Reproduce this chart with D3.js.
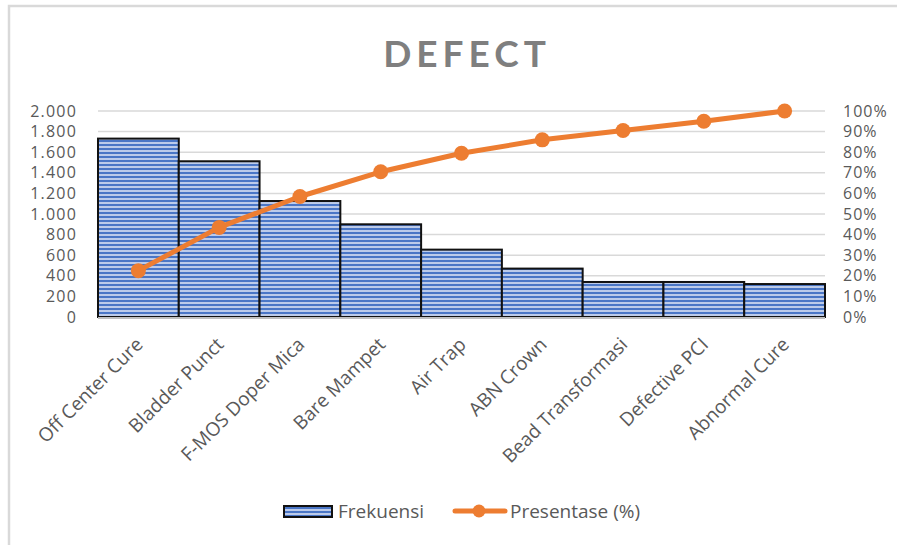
<!DOCTYPE html>
<html>
<head>
<meta charset="utf-8">
<script src="https://cdn.jsdelivr.net/npm/d3@7"></script>
<style>
  body { margin: 0; background: #fff; }
  svg text { font-family: "Open Sans", Lato, sans-serif; }
</style>
</head>
<body>
<div id="container"></div>
<script>
/**
 * DATA
 * */
const categories = ["Off Center Cure", "Bladder Punct", "F-MOS Doper Mica", "Bare Mampet",
  "Air Trap", "ABN Crown", "Bead Transformasi", "Defective PCI", "Abnormal Cure"];
const frekuensi = [1732, 1512, 1126, 900, 654, 470, 340, 340, 320];
const presentase = [22.5, 43.5, 58.5, 70.5, 79.5, 86, 90.5, 95, 100];
const leftTicks = [0, 200, 400, 600, 800, 1000, 1200, 1400, 1600, 1800, 2000];
const rightTicks = [0, 10, 20, 30, 40, 50, 60, 70, 80, 90, 100];

/**
 * CONSTANTS
 * */
const width = 897,
  height = 545,
  margin = { top: 111, bottom: 228, left: 98, right: 72 };

const svg = d3.select("#container")
  .append("svg")
  .attr("width", width)
  .attr("height", height);

// chart border (only top and left are visible in the shot)
svg.append("path")
  .attr("d", `M9,${height} V6 H${width}`)
  .attr("fill", "none")
  .attr("stroke", "#d9d9d9")
  .attr("stroke-width", 2.5);

// stripe pattern for bars
const defs = svg.append("defs");
const pat = defs.append("pattern")
  .attr("id", "stripes")
  .attr("patternUnits", "userSpaceOnUse")
  .attr("width", 8).attr("height", 4);
pat.append("rect").attr("width", 8).attr("height", 4).attr("fill", "#bccbea");
pat.append("rect").attr("y", 0).attr("width", 8).attr("height", 2).attr("fill", "#4a76c6");

const x = d3.scaleBand()
  .domain(categories)
  .range([margin.left, width - margin.right])
  .padding(0);

const yL = d3.scaleLinear()
  .domain([0, 2000])
  .range([height - margin.bottom, margin.top]);

const yR = d3.scaleLinear()
  .domain([0, 100])
  .range([height - margin.bottom, margin.top]);

// title
svg.append("text")
  .attr("x", 467)
  .attr("y", 67)
  .attr("text-anchor", "middle")
  .attr("font-size", 37)
  .attr("font-weight", "bold")
  .attr("letter-spacing", 5)
  .attr("fill", "#7f7f7f")
  .style("font-family", "Lato, sans-serif")
  .text("DEFECT");

// gridlines
svg.append("g")
  .selectAll("line")
  .data(leftTicks.slice(1))
  .join("line")
  .attr("x1", margin.left)
  .attr("x2", width - margin.right)
  .attr("y1", d => yL(d))
  .attr("y2", d => yL(d))
  .attr("stroke", "#d9d9d9")
  .attr("stroke-width", 1.5);

// left axis
const fmt = d => d3.format(",")(d).replace(/,/g, ".");
svg.append("g")
  .attr("transform", `translate(${margin.left},0)`)
  .call(d3.axisLeft(yL).tickValues(leftTicks).tickFormat(fmt).tickSize(0).tickPadding(21))
  .call(g => g.select(".domain").remove())
  .call(g => g.selectAll("text").attr("font-size", 16).attr("fill", "#595959")
    .attr("font-family", "Lato, sans-serif").attr("letter-spacing", 1.2));

// right axis
svg.append("g")
  .attr("transform", `translate(${width - margin.right},0)`)
  .call(d3.axisRight(yR).tickValues(rightTicks).tickFormat(d => d + "%").tickSize(0).tickPadding(18))
  .call(g => g.select(".domain").remove())
  .call(g => g.selectAll("text").attr("font-size", 16).attr("fill", "#595959")
    .attr("font-family", "Lato, sans-serif").attr("letter-spacing", 1));

// bars
svg.append("g")
  .selectAll("rect")
  .data(frekuensi)
  .join("rect")
  .attr("x", (d, i) => x(categories[i]))
  .attr("y", d => yL(d))
  .attr("width", x.bandwidth())
  .attr("height", d => yL(0) - yL(d))
  .attr("fill", "url(#stripes)")
  .attr("stroke", "#111")
  .attr("stroke-width", 2);

// x axis baseline
svg.append("line")
  .attr("x1", margin.left)
  .attr("x2", width - margin.right)
  .attr("y1", yL(0) + 1)
  .attr("y2", yL(0) + 1)
  .attr("stroke", "#bfbfbf")
  .attr("stroke-width", 2);

// x labels
svg.append("g")
  .selectAll("text")
  .data(categories)
  .join("text")
  .attr("transform", d => `translate(${x(d) + x.bandwidth() / 2 + 1},${yL(0) + 24}) rotate(-45)`)
  .attr("text-anchor", "end")
  .attr("dy", "0.35em")
  .attr("font-size", 19)
  .attr("fill", "#595959")
  .text(d => d);

// cumulative line
const line = d3.line()
  .x((d, i) => x(categories[i]) + x.bandwidth() / 2)
  .y(d => yR(d));

svg.append("path")
  .datum(presentase)
  .attr("d", line)
  .attr("fill", "none")
  .attr("stroke", "#ed7d31")
  .attr("stroke-width", 5)
  .attr("stroke-linejoin", "round");

svg.append("g")
  .selectAll("circle")
  .data(presentase)
  .join("circle")
  .attr("cx", (d, i) => x(categories[i]) + x.bandwidth() / 2)
  .attr("cy", d => yR(d))
  .attr("r", 7.5)
  .attr("fill", "#ed7d31");

// legend
const legend = svg.append("g").attr("transform", "translate(0,511)");
legend.append("rect")
  .attr("x", 284).attr("y", -5)
  .attr("width", 48).attr("height", 11)
  .attr("fill", "url(#stripes)")
  .attr("stroke", "#111")
  .attr("stroke-width", 2);
legend.append("text")
  .attr("x", 338).attr("y", 0).attr("dy", "0.35em")
  .attr("font-size", 19).attr("fill", "#595959")
  .text("Frekuensi");
legend.append("line")
  .attr("x1", 455).attr("x2", 505)
  .attr("stroke", "#ed7d31").attr("stroke-width", 5)
  .attr("stroke-linecap", "round");
legend.append("circle")
  .attr("cx", 479).attr("r", 6.5)
  .attr("fill", "#ed7d31");
legend.append("text")
  .attr("x", 510).attr("y", 0).attr("dy", "0.35em")
  .attr("font-size", 19).attr("fill", "#595959")
  .text("Presentase (%)");
</script>
</body>
</html>
